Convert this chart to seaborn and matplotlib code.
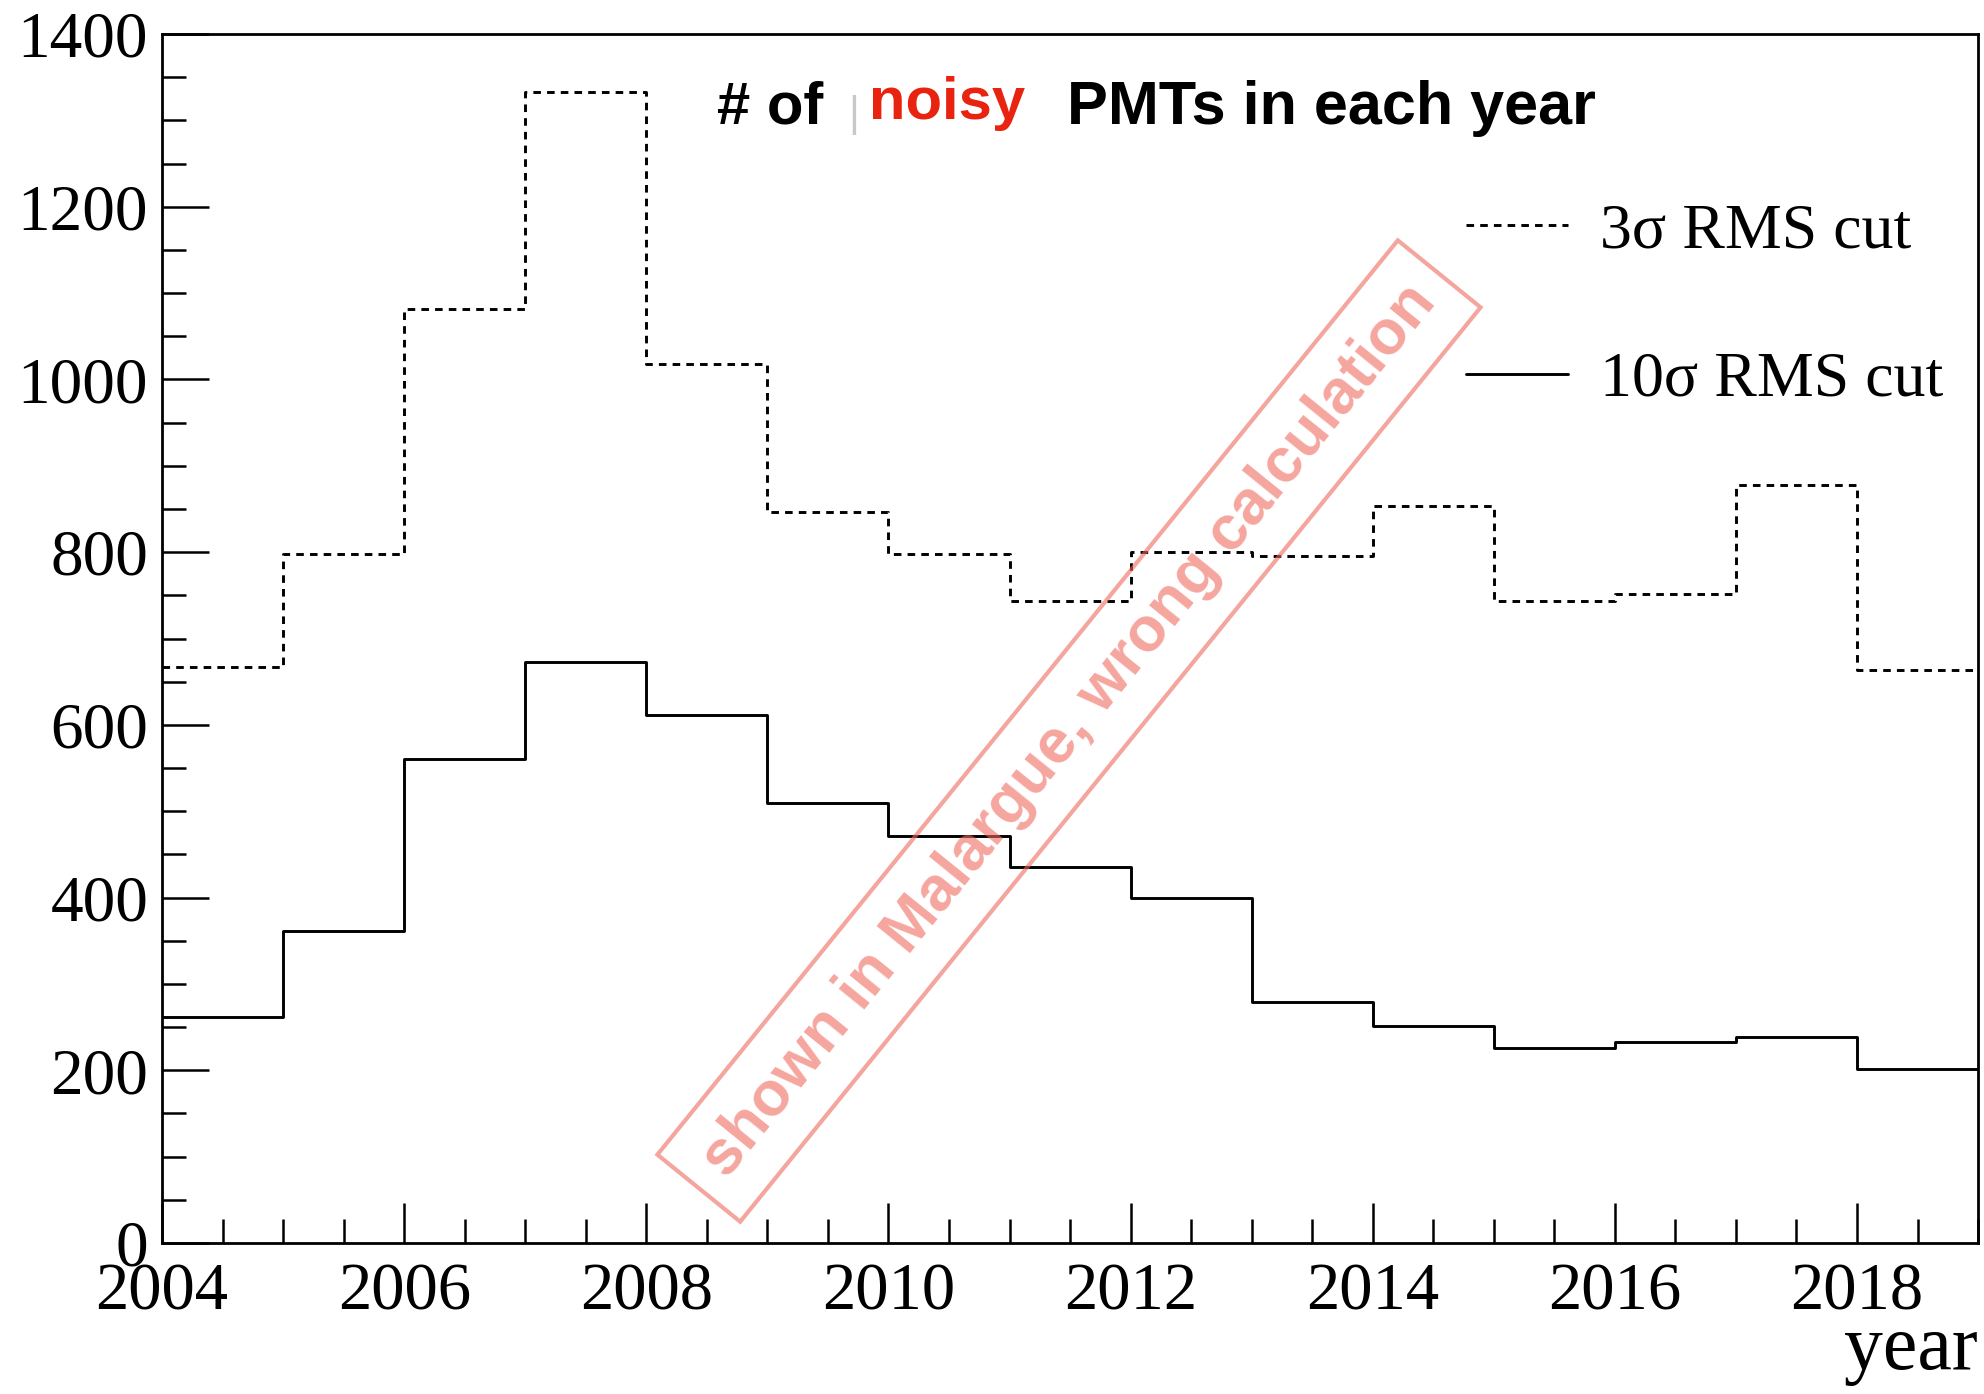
import numpy as np
import pandas as pd
import matplotlib
matplotlib.use("Agg")
import matplotlib.pyplot as plt
import seaborn as sns
from matplotlib.ticker import MultipleLocator

sns.set_style("white")
plt.rcParams['font.family'] = ['Liberation Serif', 'DejaVu Serif']
plt.rcParams['text.color'] = 'black'
plt.rcParams['xtick.color'] = 'black'
plt.rcParams['ytick.color'] = 'black'

# ---- data ----
years = [2004, 2005, 2006, 2007, 2008, 2009, 2010, 2011, 2012, 2013, 2014, 2015, 2016, 2017, 2018]
cut3_values = [667, 798, 1081, 1333, 1018, 846, 798, 743, 800, 795, 853, 743, 751, 878, 663]
cut10_values = [262, 361, 560, 673, 611, 509, 471, 435, 400, 279, 251, 226, 233, 239, 201]
series_labels = ["3σ RMS cut", "10σ RMS cut"]
title_parts = ["# of", "noisy", "PMTs in each year"]
stamp_text = "shown in Malargue, wrong calculation"
x_label = "year"

# step outlines need the closing bin edge
edges = years + [years[-1] + 1]
df3 = pd.DataFrame({"year": edges, "n": cut3_values + [cut3_values[-1]]})
df10 = pd.DataFrame({"year": edges, "n": cut10_values + [cut10_values[-1]]})

fig = plt.figure(figsize=(19.84, 13.94), dpi=100)
ax = fig.add_axes([0.0817, 0.1083, 0.9153, 0.8673])

lw = 2.1
sns.lineplot(data=df3, x="year", y="n", ax=ax, drawstyle="steps-post", color="black",
             lw=lw, linestyle=(0, (2.6, 2.1)), label=series_labels[0])
sns.lineplot(data=df10, x="year", y="n", ax=ax, drawstyle="steps-post", color="black",
             lw=lw, label=series_labels[1])

ax.set_xlim(2004, 2019)
ax.set_ylim(0, 1400)
ax.xaxis.set_major_locator(MultipleLocator(2))
ax.xaxis.set_minor_locator(MultipleLocator(0.5))
ax.yaxis.set_major_locator(MultipleLocator(200))
ax.yaxis.set_minor_locator(MultipleLocator(50))
ax.tick_params(which="both", direction="in", bottom=True, left=True, top=False, right=False,
               width=1.8, color="black", labelcolor="black")
ax.tick_params(which="major", axis="x", length=29, pad=14, labelsize=48)
ax.tick_params(which="minor", axis="x", length=17)
ax.tick_params(which="major", axis="y", length=34, pad=10, labelsize=47)
ax.tick_params(which="minor", axis="y", length=17)
for s in ax.spines.values():
    s.set_linewidth(2.0)
    s.set_color("black")
ax.set_xlabel("")
ax.set_ylabel("")

leg = ax.legend(loc="upper left", bbox_to_anchor=(0.739, 1 - 203 / 1394),
                bbox_transform=fig.transFigure, frameon=False, fontsize=46,
                handlelength=1.6, handletextpad=0.5, labelspacing=1.4,
                borderpad=0, borderaxespad=0)
for t in leg.get_texts():
    t.set_color("black")

fig.text(0.997, 0.018, x_label, ha="right", va="baseline", fontsize=56)

# title pieces
ty = 1 - 124 / 1394
sans = ["Liberation Sans", "DejaVu Sans"]
fig.text(717 / 1984, ty, title_parts[0], ha="left", va="baseline", fontsize=43,
         fontweight="bold", family=sans)
fig.text(848 / 1984, ty - 2 / 1394, "|", ha="left", va="baseline", fontsize=30,
         color="#c8c8c8", family=sans)
fig.text(869 / 1984, ty + 5 / 1394, title_parts[1], ha="left", va="baseline", fontsize=43,
         fontweight="bold", color="#E8230F", family=sans)
fig.text(1067 / 1984, ty, title_parts[2], ha="left", va="baseline", fontsize=44,
         fontweight="bold", family=sans)

# stamp
fig.text(1069 / 1984, 1 - 731 / 1394, stamp_text, rotation=51, rotation_mode="anchor",
         ha="center", va="center", fontsize=45, fontweight="bold", color="#EE6A5E", alpha=0.6,
         family=sans,
         bbox=dict(boxstyle="square,pad=0.38", fc="none", ec="#EE6A5E", lw=3.0, alpha=0.6))

fig.savefig("out.png", dpi=100)
